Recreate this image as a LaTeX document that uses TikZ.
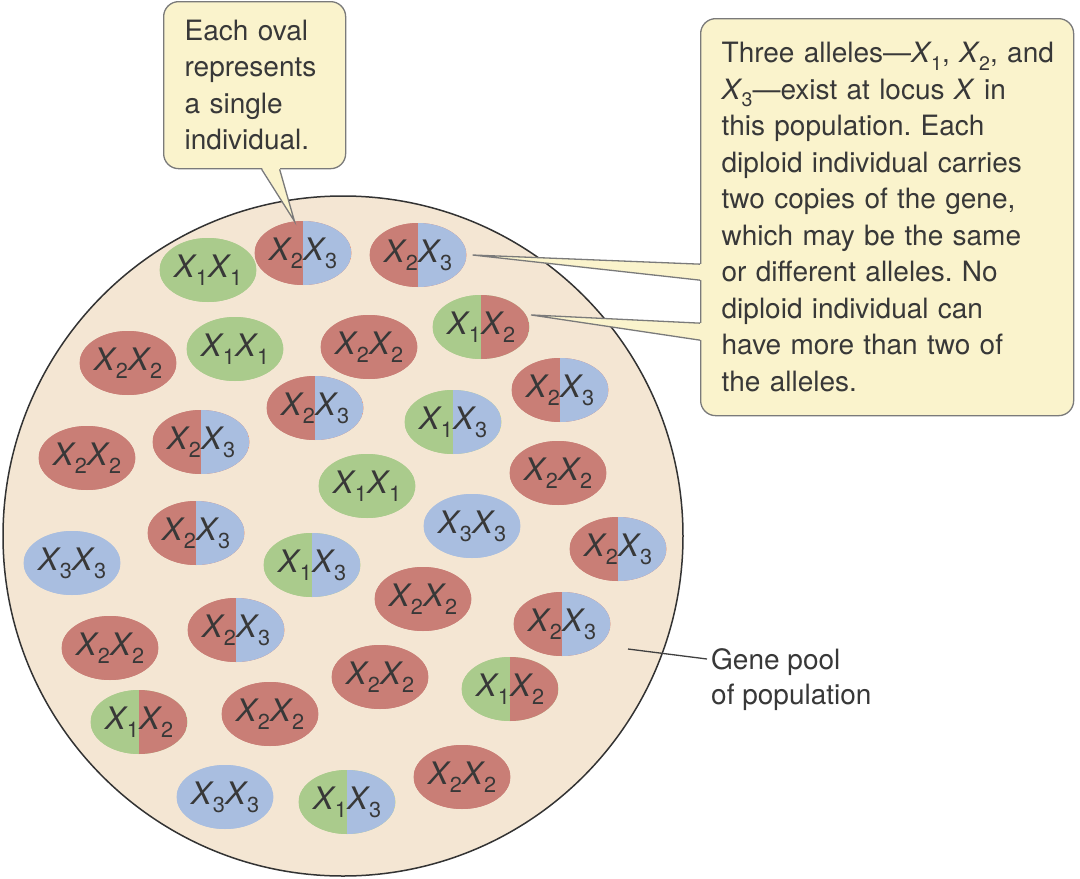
\documentclass[tikz,border=0pt]{standalone}
\usepackage{fontspec}
\setmainfont{TeX Gyre Heros}
\usetikzlibrary{shapes.geometric,calc}
\definecolor{pool}{HTML}{F4E6D3}
\definecolor{rd}{HTML}{C97E76}
\definecolor{gr}{HTML}{AACB8C}
\definecolor{bl}{HTML}{A9BEE0}
\definecolor{callfill}{HTML}{FAF3CC}
\definecolor{callline}{HTML}{7A7A7A}
\definecolor{txt}{HTML}{383838}
\newcommand\al[1]{\textit{X}\kern-0.03em\raisebox{-0.26em}{\scalebox{0.7}{#1}}}
\tikzset{
  geno/.style n args={2}{ellipse, minimum width=92pt, minimum height=64pt, inner sep=0pt,
    fill=#1, text=txt, font=\fontsize{31}{31}\selectfont,
    path picture={\fill[#1] (path picture bounding box.south west) rectangle (path picture bounding box.north);
                  \fill[#2] (path picture bounding box.south) rectangle (path picture bounding box.north east);}},
  callbox/.style={rectangle, rounded corners=15pt, fill=callfill, draw=callline, line width=1.3pt,
    text=txt, font=\fontsize{28}{36.5}\selectfont\frenchspacing, align=left},
  wedgeline/.style={draw=callline, line width=1.3pt, line join=miter},
  leader/.style={draw=black!75, line width=1.3pt}
}
\begin{document}
\begin{tikzpicture}[x=1pt,y=-1pt]
\useasboundingbox (0,0) rectangle (1080,879);
\fill[white] (0,0) rectangle (1080,879);
% gene pool
\node[circle, minimum size=680pt, inner sep=0pt, fill=pool, draw=black!80, line width=1.5pt] (pool) at (343,536) {};
% ovals
\node[geno={gr}{gr}] (o1) at (208,270) {\al1\al1};
\node[geno={rd}{bl}] (o2) at (303,253) {\al2\al3};
\node[geno={rd}{bl}] (o3) at (418,255) {\al2\al3};
\node[geno={gr}{rd}] (o4) at (481,327) {\al1\al2};
\node[geno={rd}{rd}] (o5) at (128,363) {\al2\al2};
\node[geno={gr}{gr}] (o6) at (235,349) {\al1\al1};
\node[geno={rd}{rd}] (o7) at (369,347) {\al2\al2};
\node[geno={rd}{bl}] (o8) at (315,408) {\al2\al3};
\node[geno={gr}{bl}] (o9) at (453,422) {\al1\al3};
\node[geno={rd}{bl}] (o10) at (560,390) {\al2\al3};
\node[geno={rd}{rd}] (o11) at (87,458) {\al2\al2};
\node[geno={rd}{bl}] (o12) at (201,442) {\al2\al3};
\node[geno={gr}{gr}] (o13) at (367,486) {\al1\al1};
\node[geno={rd}{rd}] (o14) at (558,473) {\al2\al2};
\node[geno={bl}{bl}] (o15) at (472,526) {\al3\al3};
\node[geno={rd}{bl}] (o16) at (196,533) {\al2\al3};
\node[geno={bl}{bl}] (o17) at (72,563) {\al3\al3};
\node[geno={gr}{bl}] (o18) at (312,565) {\al1\al3};
\node[geno={rd}{bl}] (o19) at (618,549) {\al2\al3};
\node[geno={rd}{rd}] (o20) at (423,599) {\al2\al2};
\node[geno={rd}{bl}] (o21) at (236,630) {\al2\al3};
\node[geno={rd}{bl}] (o22) at (562,624) {\al2\al3};
\node[geno={rd}{rd}] (o23) at (110,648) {\al2\al2};
\node[geno={rd}{rd}] (o24) at (380,677) {\al2\al2};
\node[geno={gr}{rd}] (o25) at (510,689) {\al1\al2};
\node[geno={gr}{rd}] (o26) at (139,722) {\al1\al2};
\node[geno={rd}{rd}] (o27) at (270,714) {\al2\al2};
\node[geno={bl}{bl}] (o28) at (225,797) {\al3\al3};
\node[geno={gr}{bl}] (o29) at (347,802) {\al1\al3};
\node[geno={rd}{rd}] (o30) at (462,777) {\al2\al2};
% callout 1
\node[callbox, anchor=north west, minimum width=179pt, minimum height=167pt, text width=140pt, inner xsep=21pt] (c1box) at (163,1)
  {Each oval\\represents\\a single\\individual.};
\coordinate (t1) at (o2.105);
\fill[callfill] ($(c1box.south)+(7,-2)$) -- (t1) -- ($(c1box.south)+(25,-2)$) -- cycle;
\draw[wedgeline] ($(c1box.south)+(7,0)$) -- (t1) -- ($(c1box.south)+(25,0)$);
% callout 2
\node[callbox, anchor=north west, minimum width=373pt, minimum height=397pt, text width=331pt, inner xsep=21pt] (c2box) at (700,18)
  {\mbox{Three alleles—\al1, \al2, and}\\\al3—exist at locus \textit{X} in\\this population. Each\\diploid individual carries\\two copies of the gene,\\which may be the same\\or different alleles. No\\diploid individual can\\have more than two of\\the alleles.};
\coordinate (t2) at ($(o3.east)+(6,0)$);
\coordinate (t3) at ($(o4.15)+(5,0)$);
\fill[callfill] ($(c2box.west)+(2,47)$) -- (t2) -- ($(c2box.west)+(2,63)$) -- cycle;
\draw[wedgeline] ($(c2box.west)+(0,47)$) -- (t2) -- ($(c2box.west)+(0,63)$);
\fill[callfill] ($(c2box.west)+(2,106)$) -- (t3) -- ($(c2box.west)+(2,123)$) -- cycle;
\draw[wedgeline] ($(c2box.west)+(0,106)$) -- (t3) -- ($(c2box.west)+(0,123)$);
% gene pool label
\node[anchor=west, align=left, text=txt, font=\fontsize{28}{35}\selectfont, inner xsep=4pt] (gplabel) at (707,680)
  {Gene pool\\of population};
\coordinate (gpin) at (628,649);
\draw[leader] (gpin) -- ([yshift=21pt]gplabel.west);
\end{tikzpicture}
\end{document}
